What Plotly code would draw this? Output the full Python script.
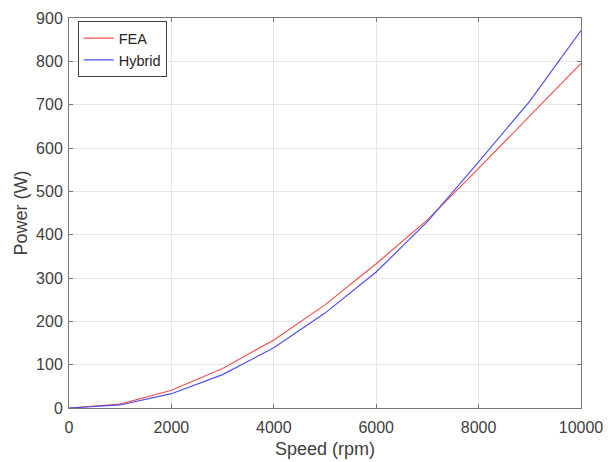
import plotly.graph_objects as go

speed = [0, 1000, 2000, 3000, 4000, 5000, 6000, 7000, 8000, 9000, 10000]
fea = [0, 9, 41, 91, 157, 238, 333, 434, 553, 675, 795]
hybrid = [0, 7, 33, 77, 139, 219, 314, 430, 568, 708, 871]

x_ticks = [0, 2000, 4000, 6000, 8000, 10000]
y_ticks = [0, 100, 200, 300, 400, 500, 600, 700, 800, 900]

font_family = "Liberation Sans, Arial, sans-serif"

fig = go.Figure()
fig.add_trace(go.Scatter(x=speed, y=fea, mode="lines", name="FEA",
                         line=dict(color="rgb(245,80,80)", width=1.2)))
fig.add_trace(go.Scatter(x=speed, y=hybrid, mode="lines", name="Hybrid",
                         line=dict(color="rgb(80,80,240)", width=1.2)))

axis_common = dict(
    showline=True, linecolor="#777777", linewidth=1, mirror="ticks",
    ticks="inside", ticklen=4, tickcolor="#777777",
    showgrid=True, gridcolor="#e6e6e6", gridwidth=1,
    zeroline=False, automargin=False,
    tickfont=dict(family=font_family, size=16, color="#404040"),
)

fig.update_layout(
    width=613, height=462,
    margin=dict(l=69, r=32, t=18, b=54),
    paper_bgcolor="white", plot_bgcolor="white",
    font=dict(family=font_family, color="#404040"),
    xaxis=dict(range=[0, 10000], tickvals=x_ticks, ticktext=[str(v) for v in x_ticks],
               ticklabelstandoff=5,
               title=dict(text="Speed (rpm)", font=dict(size=18, color="#404040"), standoff=7),
               **axis_common),
    yaxis=dict(range=[0, 900], tickvals=y_ticks, ticktext=[str(v) for v in y_ticks],
               ticklabelstandoff=2,
               title=dict(text="Power (W)", font=dict(size=18, color="#404040"), standoff=3),
               **axis_common),
    legend=dict(x=0.017, y=0.992, xanchor="left", yanchor="top",
                bgcolor="white", bordercolor="#404040", borderwidth=1,
                font=dict(family=font_family, size=14.5, color="#262626"),
                itemwidth=30, tracegroupgap=0),
    showlegend=True,
)

fig.write_html("out.html")
